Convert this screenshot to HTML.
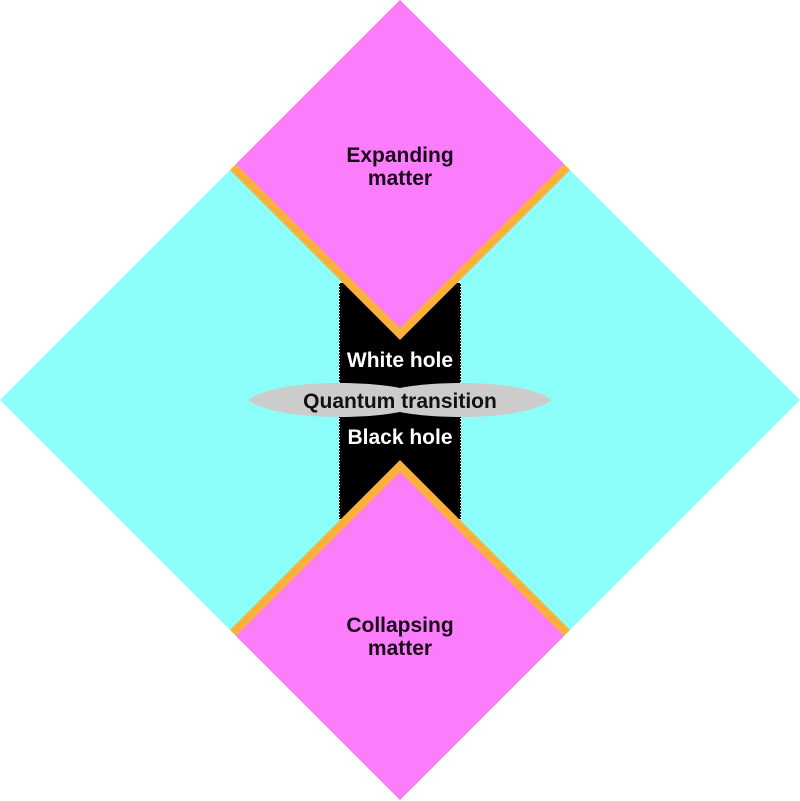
<!DOCTYPE html>
<html><head><style>body{margin:0;background:#fff}svg{display:block}text{font-family:"Liberation Sans",sans-serif;font-weight:bold;font-size:21px;text-anchor:middle}</style></head>
<body><svg width="800" height="801" viewBox="0 0 800 801">
<polygon points="400,0 800,400 400,800 0,400" fill="#8cfffb"/>
<rect x="339" y="283" width="122" height="236" fill="#000"/>
<line x1="339.5" y1="283" x2="339.5" y2="519" stroke="#fff" stroke-width="1" stroke-dasharray="1,2"/>
<line x1="460.5" y1="283" x2="460.5" y2="519" stroke="#fff" stroke-width="1" stroke-dasharray="1,2"/>
<polygon points="400,0 230,170 400,340 570,170" fill="#fbb03b"/>
<polygon points="400,0 236,164 400,328 564,164" fill="#fb7dfb"/>
<polygon points="400,460 230,630 400,800 570,630" fill="#fbb03b"/>
<polygon points="400,472 236,636 400,800 564,636" fill="#fb7dfb"/>
<path d="M248,400 C275,380 360,380 400,388 C440,380 525,380 552,400 C525,420 440,420 400,412 C360,420 275,420 248,400Z" fill="#cccccc"/>
<text x="400" y="162" fill="#1a0a1a">Expanding</text>
<text x="400" y="185" fill="#1a0a1a">matter</text>
<text x="400" y="367" fill="#fff">White hole</text>
<text x="400" y="408" fill="#111">Quantum transition</text>
<text x="400" y="444" fill="#fff">Black hole</text>
<text x="400" y="632" fill="#1a0a1a">Collapsing</text>
<text x="400" y="655" fill="#1a0a1a">matter</text>
</svg></body></html>
